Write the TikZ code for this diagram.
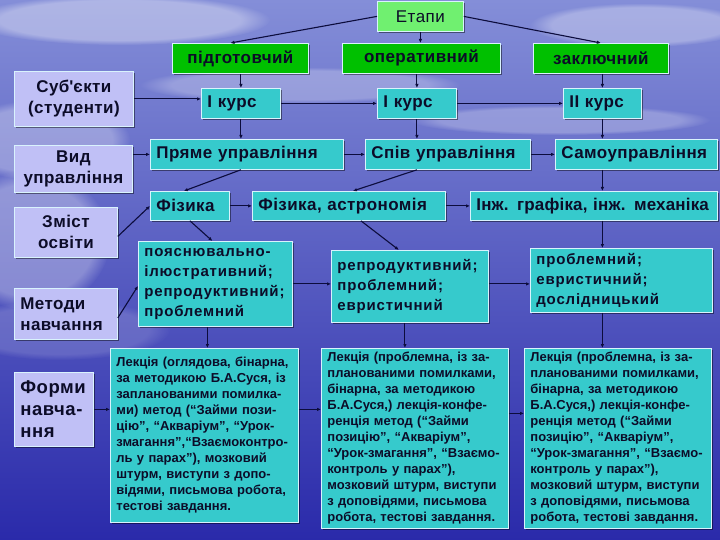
\documentclass[tikz,border=0pt]{standalone}
\usepackage{fontspec}
\setmainfont{Liberation Sans}
\usetikzlibrary{arrows.meta,shadows,fadings,calc}
\definecolor{bgtop}{RGB}{132,142,216}
\definecolor{bgmid}{RGB}{78,82,198}
\definecolor{bgbot}{RGB}{42,42,170}
\definecolor{tealc}{RGB}{54,202,204}
\definecolor{grnc}{RGB}{0,192,0}
\definecolor{lgrnc}{RGB}{112,240,112}
\definecolor{lavc}{RGB}{192,192,246}
\definecolor{txtc}{RGB}{12,12,40}
\definecolor{arrc}{RGB}{12,12,60}
\newcommand{\myapos}{{\addfontfeature{Ligatures=TeXOff}'}}
\newcommand{\bx}[8]{%
  \pgfmathsetmacro\mybw{#5-#3}%
  \pgfmathsetmacro\mybh{#6-#4}%
  \pgfmathsetmacro\mytw{#5-#3-12}%
  \node[#2, anchor=north west, minimum width=\mybw pt, minimum height=\mybh pt,
        text width=\mytw pt, inner xsep=6pt, inner ysep=0pt, align=#7] (#1) at (#3,#4) {#8};}
\begin{document}
\begin{tikzpicture}[x=1pt,y=-1pt,
  basebox/.style={draw=white!85!cyan, line width=0.8pt, text=txtc,
    drop shadow={shadow xshift=2pt, shadow yshift=-2pt, fill=black, opacity=0.45},
    font=\bfseries\fontsize{17}{21}\selectfont\addfontfeature{LetterSpace=2.5}},
  tbox/.style={basebox, fill=tealc},
  gbox/.style={basebox, fill=grnc},
  egbox/.style={basebox, fill=lgrnc, font=\fontsize{17}{21}\selectfont\addfontfeature{LetterSpace=3}},
  lbox/.style={basebox, fill=lavc},
  fbox/.style={basebox, fill=lavc, font=\bfseries\fontsize{18.5}{22}\selectfont\addfontfeature{LetterSpace=3}},
  midbox/.style={tbox, font=\bfseries\fontsize{15}{20}\selectfont\addfontfeature{LetterSpace=5.5}},
  lecbox/.style={tbox, font=\bfseries\fontsize{13}{16}\selectfont},
  arr/.style={draw=arrc, line width=1.1pt, -{Latex[length=4pt,width=3.5pt]}},
  cloud/.style={white, path fading=circle with fuzzy edge 20 percent}
]
\useasboundingbox (0,0) rectangle (720,540);
\shade[top color=bgtop, middle color=bgmid, bottom color=bgbot] (0,0) rectangle (720,540);
% soft clouds and reflections
\fill[cloud, fill opacity=0.35] (120,20) ellipse (150 and 25);
\fill[cloud, fill opacity=0.30] (640,25) ellipse (110 and 22);
\fill[cloud, fill opacity=0.25] (300,85) ellipse (160 and 18);
\fill[cloud, fill opacity=0.25] (560,120) ellipse (150 and 15);
\fill[cloud, fill opacity=0.30] (40,140) ellipse (90 and 40);
\fill[cloud, fill opacity=0.30] (30,240) ellipse (80 and 70);
\fill[cloud, fill opacity=0.15] (60,330) ellipse (110 and 30);

% boxes
\bx{etapy}{egbox}{377}{1}{463}{31}{center}{Етапи}
\bx{pidg}{gbox}{172}{43}{308}{73}{center}{підготовчий}
\bx{oper}{gbox}{342}{43}{500}{73}{center}{оперативний}
\bx{zakl}{gbox}{533}{43}{668}{73}{center}{заключний}
\bx{kursa}{tbox}{201}{88}{280}{118}{left}{I курс}
\bx{kursb}{tbox}{377}{88}{456}{118}{left}{I курс}
\bx{kursc}{tbox}{563}{88}{641}{118}{left}{II курс}
\bx{subj}{lbox}{14}{71}{133}{126}{center}{Суб\myapos єкти\\(студенти)}
\bx{vyd}{lbox}{14}{145}{132}{192}{center}{Вид\\управління}
\bx{priame}{tbox}{150}{139}{343}{169}{left}{Пряме управління}
\bx{spiv}{tbox}{365}{139}{530}{169}{left}{Спів управління}
\bx{samo}{tbox}{555}{139}{717}{169}{left}{Самоуправління}
\bx{fiz}{tbox}{150}{191}{229}{220}{left}{Фізика}
\bx{fizastr}{tbox}{252}{191}{445}{220}{left}{Фізика, астрономія}
\bx{inzh}{tbox}{470}{191}{717}{220}{left}{\addfontfeature{LetterSpace=1}Інж. графіка, інж. механіка}
\bx{zmist}{lbox}{14}{207}{117}{257}{center}{Зміст\\освіти}
\bx{poyasn}{midbox}{138}{241}{292}{326}{left}{пояснювально-\\ілюстративний;\\репродуктивний;\\проблемний}
\bx{repr}{midbox}{331}{250}{488}{322}{left}{репродуктивний;\\проблемний;\\евристичний}
\bx{probl}{midbox}{530}{248}{712}{312}{left}{проблемний;\\евристичний;\\дослідницький}
\bx{metody}{lbox}{14}{288}{117}{339}{left}{Методи\\навчання}
\bx{formy}{fbox}{14}{372}{93}{446}{left}{Форми\\навча-\\ння}
\bx{leka}{lecbox}{110}{348}{298}{522}{left}{Лекція (оглядова, бінарна,\\за методикою Б.А.Суся, із\\запланованими помилка-\\ми) метод (“Займи пози-\\цію”, “Акваріум”, “Урок-\\змагання”,“Взаємоконтро-\\ль у парах”), мозковий\\штурм, виступи з допо-\\відями, письмова робота,\\тестові завдання.}
\bx{lekb}{lecbox}{321}{348}{508}{528}{left}{Лекція (проблемна, із за-\\планованими помилками,\\бінарна, за методикою\\Б.А.Суся,) лекція-конфе-\\ренція метод (“Займи\\позицію”, “Акваріум”,\\“Урок-змагання”, “Взаємо-\\контроль у парах”),\\мозковий штурм, виступи\\з доповідями, письмова\\робота, тестові завдання.}
\bx{lekc}{lecbox}{524}{348}{711}{528}{left}{Лекція (проблемна, із за-\\планованими помилками,\\бінарна, за методикою\\Б.А.Суся,) лекція-конфе-\\ренція метод (“Займи\\позицію”, “Акваріум”,\\“Урок-змагання”, “Взаємо-\\контроль у парах”),\\мозковий штурм, виступи\\з доповідями, письмова\\робота, тестові завдання.}

% connectors
\draw[arr] (etapy.west) -- ([xshift=-10pt]pidg.north);
\draw[arr] (etapy.south) -- (etapy.south |- oper.north);
\draw[arr] (etapy.east) -- (zakl.north);
\draw[arr] (kursa.north |- pidg.south) -- (kursa.north);
\draw[arr] (kursb.north |- oper.south) -- (kursb.north);
\draw[arr] (kursc.north |- zakl.south) -- (kursc.north);
\draw[arr] (subj.east) -- (subj.east -| kursa.west);
\draw[arr] (kursa.east) -- (kursb.west);
\draw[arr] (kursb.east) -- (kursc.west);
\draw[arr] (kursa.south) -- (kursa.south |- priame.north);
\draw[arr] (kursb.south) -- (kursb.south |- spiv.north);
\draw[arr] (kursc.south) -- (kursc.south |- samo.north);
\draw[arr] (vyd.east |- priame.west) -- (priame.west);
\draw[arr] (priame.east) -- (spiv.west);
\draw[arr] (spiv.east) -- (samo.west);
\draw[arr] ([xshift=-6pt]priame.south) -- ([xshift=-6pt]fiz.north);
\draw[arr] (kursb.south |- spiv.south) -- ([xshift=4pt]fizastr.north);
\draw[arr] (kursc.south |- samo.south) -- (kursc.south |- inzh.north);
\draw[arr] ([yshift=-4pt]zmist.east) -- (fiz.west);
\draw[arr] (fiz.east) -- (fizastr.west);
\draw[arr] (fizastr.east) -- (inzh.west);
\draw[arr] (fiz.south) -- ([xshift=-3pt]poyasn.north);
\draw[arr] ([xshift=12pt]fizastr.south) -- ([xshift=-11pt]repr.north);
\draw[arr] (kursc.south |- inzh.south) -- (kursc.south |- probl.north);
\draw[arr] ([yshift=-4pt]metody.east) -- ([yshift=-2pt]poyasn.west);
\draw[arr] (poyasn.east) -- (poyasn.east -| repr.west);
\draw[arr] (poyasn.east -| repr.east) -- (poyasn.east -| probl.west);
\draw[arr] ([xshift=-8pt]poyasn.south) -- ([xshift=-8pt]poyasn.south |- leka.north);
\draw[arr] ([xshift=-5pt]repr.south) -- ([xshift=-5pt]repr.south |- lekb.north);
\draw[arr] (kursc.south |- probl.south) -- (kursc.south |- lekc.north);
\draw[arr] (formy.east) -- (formy.east -| leka.west);
\draw[arr] (formy.east -| leka.east) -- (formy.east -| lekb.west);
\draw[arr] ([yshift=-4pt]formy.east -| lekb.east) -- ([yshift=-4pt]formy.east -| lekc.west);
\end{tikzpicture}
\end{document}
